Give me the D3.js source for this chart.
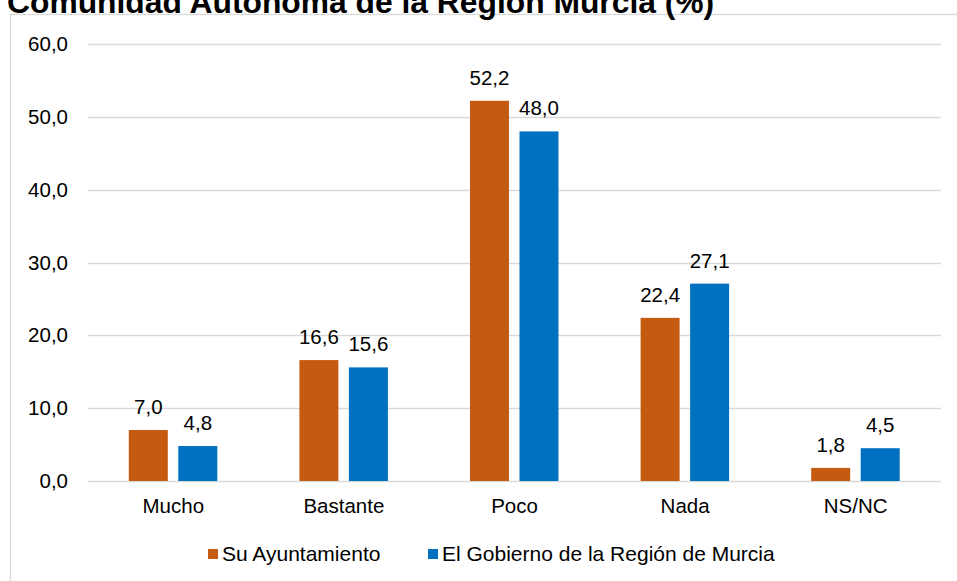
<!DOCTYPE html>
<html>
<head>
<meta charset="utf-8">
<script src="https://cdn.jsdelivr.net/npm/d3@7"></script>
<style>
body { margin: 0; background: #fff; }
svg { font-family: "Liberation Sans", Arial, sans-serif; }
</style>
</head>
<body>
<div id="chart"></div>
<script>
// valores
var categorias = ["Mucho", "Bastante", "Poco", "Nada", "NS/NC"];
var series = ["Su Ayuntamiento", "El Gobierno de la Región de Murcia"];
var ayuntamiento = [7.0, 16.6, 52.2, 22.4, 1.8];
var gobierno = [4.8, 15.6, 48.0, 27.1, 4.5];
var yTicks = [0, 10, 20, 30, 40, 50, 60];
var colores = ["#C55A11", "#0070C0"];
var titulo = "Comunidad Autónoma de la Región Murcia (%)";

var width = 957;
var height = 581;
var plotLeft = 88, plotRight = 941, plotTop = 44, plotBottom = 481;
var fs = 20.5;

var svg = d3.select("#chart")
	.append("svg")
	.attr("width", width)
	.attr("height", height);

// marco del grafico
svg.append("rect")
	.attr("x", 10.5)
	.attr("y", 14.5)
	.attr("width", 960)
	.attr("height", 600)
	.attr("fill", "none")
	.attr("stroke", "#D9D9D9")
	.attr("stroke-width", 1.3);

svg.append("text")
	.attr("x", 7)
	.attr("y", 13)
	.attr("font-size", 31.8)
	.attr("font-weight", "bold")
	.attr("fill", "#000")
	.text(titulo);

var xScale = d3.scaleBand()
	.domain(categorias)
	.range([plotLeft, plotRight]);

var yScale = d3.scaleLinear()
	.domain([0, 60])
	.range([plotBottom, plotTop]);

var fmt = function(v){ return d3.format(".1f")(v).replace(".", ","); };

// lineas de la cuadricula
svg.selectAll("line.grid")
	.data(yTicks)
	.enter()
	.append("line")
	.attr("class", "grid")
	.attr("x1", plotLeft)
	.attr("x2", plotRight)
	.attr("y1", function(d){ return Math.round(yScale(d)) + 0.5; })
	.attr("y2", function(d){ return Math.round(yScale(d)) + 0.5; })
	.attr("stroke", "#D9D9D9")
	.attr("stroke-width", 1.3);

var yAxis = d3.axisLeft(yScale).tickValues(yTicks).tickFormat(fmt).tickSize(0).tickPadding(0);
var gy = svg.append("g")
	.attr("transform", "translate(68,0)")
	.call(yAxis);
gy.select(".domain").remove();
gy.selectAll("text")
	.attr("font-size", fs)
	.attr("fill", "#000")
	.attr("font-family", "Liberation Sans, Arial, sans-serif");

var xAxis = d3.axisBottom(xScale).tickSize(0);
var gx = svg.append("g")
	.attr("transform", "translate(0," + plotBottom + ")")
	.call(xAxis);
gx.select(".domain").remove();
gx.selectAll("text")
	.attr("y", 32)
	.attr("dy", 0)
	.attr("font-size", fs)
	.attr("fill", "#000")
	.attr("font-family", "Liberation Sans, Arial, sans-serif");

var barW = 39;
var offsets = [-44.5, 5];
var valores = [ayuntamiento, gobierno];

valores.forEach(function(vals, s){
	var data = categorias.map(function(c, i){ return {cat: c, v: vals[i]}; });
	svg.selectAll("rect.s" + s)
		.data(data)
		.enter()
		.append("rect")
		.attr("class", "s" + s)
		.attr("x", function(d){ return xScale(d.cat) + xScale.bandwidth() / 2 + offsets[s]; })
		.attr("y", function(d){ return yScale(d.v); })
		.attr("width", barW)
		.attr("height", function(d){ return yScale(0) - yScale(d.v); })
		.attr("fill", colores[s]);

	svg.selectAll("text.l" + s)
		.data(data)
		.enter()
		.append("text")
		.attr("class", "l" + s)
		.attr("x", function(d){ return xScale(d.cat) + xScale.bandwidth() / 2 + offsets[s] + barW / 2; })
		.attr("y", function(d){ return yScale(d.v) - 16; })
		.attr("text-anchor", "middle")
		.attr("font-size", fs)
		.attr("fill", "#000")
		.text(function(d){ return fmt(d.v); });
});

// leyenda
var legX = [208, 428];
series.forEach(function(name, i){
	svg.append("rect")
		.attr("x", legX[i])
		.attr("y", 549)
		.attr("width", 10)
		.attr("height", 10)
		.attr("fill", colores[i]);
	svg.append("text")
		.attr("x", legX[i] + 14)
		.attr("y", 561)
		.attr("font-size", 21)
		.attr("fill", "#000")
		.text(name);
});
</script>
</body>
</html>
